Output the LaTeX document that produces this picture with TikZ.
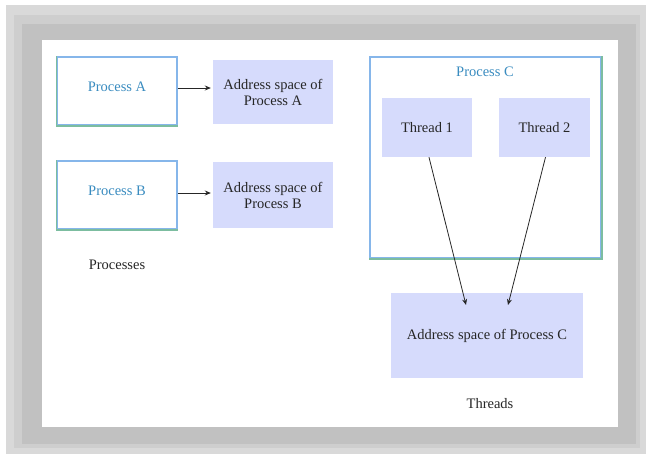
\documentclass[tikz,border=0pt]{standalone}
\usepackage{fontspec}
\setmainfont{Liberation Serif}
\usetikzlibrary{arrows.meta}
\definecolor{lav}{HTML}{D6DBFC}
\definecolor{pblue}{HTML}{86B6EA}
\definecolor{pgreen}{HTML}{7CBDA0}
\definecolor{ptext}{HTML}{3A8CC0}
\definecolor{dtext}{HTML}{262626}
\definecolor{gA}{HTML}{D9D9D9}
\definecolor{gB}{HTML}{CECECE}
\definecolor{gC}{HTML}{C1C1C1}
\tikzset{
  txt/.style={font=\fontsize{14.5}{16}\selectfont, text=dtext, align=center},
  ptxt/.style={font=\fontsize{14.5}{16}\selectfont, text=ptext},
  procbox/.style={draw=pblue, line width=1.5pt, fill=white, inner sep=0pt, minimum width=120pt, minimum height=68pt},
  addrbox/.style={fill=lav, inner sep=0pt, txt},
  conn/.style={draw=dtext, line width=0.8pt, -{Stealth[length=6pt,width=5pt]}},
}
\begin{document}
\begin{tikzpicture}[x=1pt,y=-1pt]
\useasboundingbox (0,0) rectangle (646,459);
\fill[white] (0,0) rectangle (646,459);
\fill[gA] (6,5) rectangle (646,454);
\fill[gB] (14,15) rectangle (640,448);
\fill[gC] (22,24) rectangle (636,444);
\fill[white] (42,40) rectangle (618,427);
% processes
\node[procbox] (pa) at (117,91) {};
\draw[pgreen, line width=1.5pt] (pa.north west) -- (pa.south west) -- (pa.south east);
\node[ptxt] (palab) at (117,87) {Process A};
\node[addrbox, minimum width=120pt, minimum height=64pt] (aa) at (273,92) {Address space of\\Process A};
\node[procbox] (pb) at (117,195) {};
\draw[pgreen, line width=1.5pt] (pb.north west) -- (pb.south west) -- (pb.south east);
\node[ptxt] (pblab) at (117,191) {Process B};
\node[addrbox, minimum width=120pt, minimum height=66pt] (ab) at (273,195) {Address space of\\Process B};
\draw[conn] ([yshift=3pt]pa.east) -- ([yshift=3pt,xshift=-2pt]pa.east -| aa.west);
\draw[conn] ([yshift=2pt]pb.east) -- ([yshift=2pt,xshift=-2pt]pb.east -| ab.west);
\node[txt] (procs) at (117,265) {Processes};
% threads
\node[draw=pblue, line width=1.5pt, inner sep=0pt, minimum width=231pt, minimum height=201pt] (pc) at (485.5,157.5) {};
\draw[pgreen, line width=1.5pt] (pc.north east) -- (pc.south east) -- (pc.south west);
\node[ptxt] (pclab) at (485,72) {Process C};
\node[addrbox, minimum width=90pt, minimum height=59pt] (t1) at (427,127.5) {Thread 1};
\node[addrbox, minimum width=91pt, minimum height=59pt] (t2) at (544.5,127.5) {Thread 2};
\node[addrbox, minimum width=192pt, minimum height=85pt] (ac) at (487,335.5) {Address space of Process C};
\coordinate (e1) at (466,305);
\coordinate (e2) at (508,305);
\draw[conn] ([xshift=2pt]t1.south) -- (e1);
\draw[conn] ([xshift=1pt]t2.south) -- (e2);
\node[txt] (thr) at (490,404) {Threads};
\end{tikzpicture}
\end{document}
